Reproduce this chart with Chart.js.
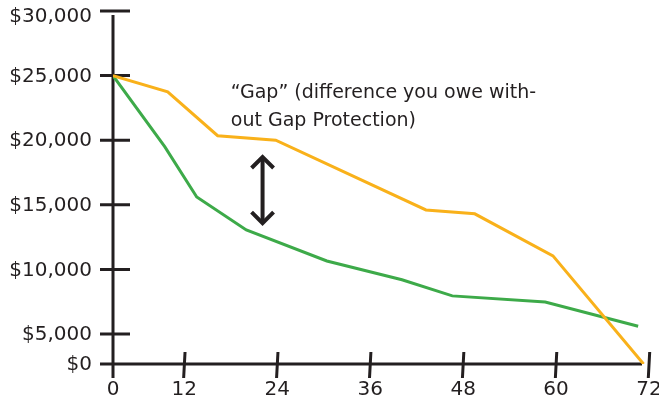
<!DOCTYPE html>
<html>
<head>
<meta charset="utf-8">
<script src="https://cdn.jsdelivr.net/npm/chart.js@4/dist/chart.umd.min.js"></script>
<style>
  html, body { margin: 0; padding: 0; background: #ffffff; }
  #wrap { width: 659px; height: 401px; }
</style>
</head>
<body>
<div id="wrap"><canvas id="chart" width="659" height="401"></canvas></div>
<script>
// Months since purchase and amounts for the two curves
const loanMonths   = [0, 9.2, 16.3, 23.8, 43.2, 49.5, 59.6, 71.3];
const loanBalance  = [25000, 23750, 20350, 20000, 14600, 14300, 11050, 0];
const valueMonths  = [0, 8.7, 13.6, 20.0, 30.4, 40.1, 46.6, 58.6, 70.6];
const carValue     = [25000, 19500, 15600, 13050, 10650, 9200, 7950, 7480, 5600];

// Axis ticks
const monthTicks  = [0, 12, 24, 36, 48, 60, 72];
const dollarTicks = [0, 5000, 10000, 15000, 20000, 25000, 30000];

// Annotation text
const gapLines = ['\u201CGap\u201D (difference you owe with-', 'out Gap Protection)'];

const INK = '#231f20';
const FONT = '"DejaVu Sans", sans-serif';

// Linear scale whose first interval (min..knee) is squeezed into a fixed share of the axis
class KneeScale extends Chart.LinearScale {
  static id = 'knee';
  _kneeDecimal(v) {
    const k = this.options.knee, f = this.options.kneeFraction;
    const lo = this.min, hi = this.max;
    return v <= k ? (v - lo) / (k - lo) * f : f + (v - k) / (hi - k) * (1 - f);
  }
  getPixelForValue(v) {
    return v === null ? NaN : this.getPixelForDecimal(this._kneeDecimal(v));
  }
  getValueForPixel(p) {
    const d = this.getDecimalForPixel(p);
    const k = this.options.knee, f = this.options.kneeFraction;
    return d <= f ? this.min + d / f * (k - this.min) : k + (d - f) / (1 - f) * (this.max - k);
  }
}
Chart.register(KneeScale);

// Axis lines, crossing tick marks and dollar labels
const handAxes = {
  id: 'handAxes',
  beforeDatasetsDraw(chart) {
    const { ctx, chartArea: a, scales: { x, y } } = chart;
    const x0 = x.getPixelForValue(0), y0 = y.getPixelForValue(0);
    ctx.save();
    ctx.strokeStyle = INK;
    ctx.lineWidth = 3;
    ctx.lineCap = 'butt';
    ctx.beginPath();
    ctx.moveTo(x0, a.top + 4); ctx.lineTo(x0, y0 + 14);
    ctx.moveTo(x0 - 13, y0); ctx.lineTo(a.right - 7, y0);
    y.ticks.forEach((t, i) => {
      if (t.value === 0) return;
      const py = y.getPixelForTick(i);
      ctx.moveTo(x0 - 13, py); ctx.lineTo(x0 + 17, py);
    });
    x.ticks.forEach((t, i) => {
      if (t.value === 0) return;
      const px = x.getPixelForTick(i);
      ctx.moveTo(px + 0.7, y0 - 12); ctx.lineTo(px - 0.7, y0 + 14);
    });
    ctx.stroke();

    ctx.fillStyle = INK;
    ctx.font = '20px ' + FONT;
    ctx.textAlign = 'right';
    ctx.textBaseline = 'middle';
    y.ticks.forEach((t, i) => {
      const py = Math.max(y.getPixelForTick(i), 16);
      ctx.fillText(t.label, x0 - 21, py + 1);
    });
    ctx.restore();
  },
  afterDatasetsDraw(chart) {
    const { ctx, scales: { x, y } } = chart;
    ctx.save();
    // caption
    ctx.fillStyle = INK;
    ctx.font = '19px ' + FONT;
    ctx.textAlign = 'left';
    ctx.textBaseline = 'alphabetic';
    const tx = x.getPixelForValue(18.0), ty = y.getPixelForValue(23250);
    gapLines.forEach((s, i) => ctx.fillText(s, tx, ty + i * 28));
    // double-headed arrow
    const ax = x.getPixelForValue(22.1);
    const top = y.getPixelForValue(18780), bot = y.getPixelForValue(13510);
    ctx.strokeStyle = INK;
    ctx.lineWidth = 4;
    ctx.lineJoin = 'miter';
    ctx.beginPath();
    ctx.moveTo(ax, top + 1); ctx.lineTo(ax, bot - 1);
    ctx.stroke();
    ctx.beginPath();
    ctx.moveTo(ax - 11, top + 12); ctx.lineTo(ax, top + 1); ctx.lineTo(ax + 11, top + 12);
    ctx.moveTo(ax - 11, bot - 12); ctx.lineTo(ax, bot - 1); ctx.lineTo(ax + 11, bot - 12);
    ctx.stroke();
    ctx.restore();
  }
};

new Chart(document.getElementById('chart'), {
  type: 'line',
  data: {
    datasets: [
      {
        label: 'Loan balance',
        data: loanMonths.map((m, i) => ({ x: m, y: loanBalance[i] })),
        borderColor: '#f9b11a',
        borderWidth: 3,
        pointRadius: 0,
        tension: 0
      },
      {
        label: 'Vehicle value',
        data: valueMonths.map((m, i) => ({ x: m, y: carValue[i] })),
        borderColor: '#3daa49',
        borderWidth: 3,
        pointRadius: 0,
        tension: 0
      }
    ]
  },
  options: {
    responsive: false,
    animation: false,
    events: [],
    layout: { padding: { top: 11, right: 10, left: 0, bottom: 0 } },
    plugins: { legend: { display: false }, tooltip: { enabled: false } },
    scales: {
      x: {
        type: 'knee',
        min: 0, max: 72,
        knee: 12, kneeFraction: 0.1331,
        afterBuildTicks: s => { s.ticks = monthTicks.map(v => ({ value: v })); },
        ticks: {
          autoSkip: false, maxRotation: 0,
          color: INK, padding: 2,
          font: { family: FONT, size: 20 }
        },
        grid: { display: false, drawTicks: true, tickLength: 12 },
        border: { display: false },
        afterFit: s => { s.height = 37; s.paddingLeft = 0; s.paddingRight = 0; }
      },
      y: {
        type: 'knee',
        min: 0, max: 30000,
        knee: 5000, kneeFraction: 30 / 353,
        afterBuildTicks: s => { s.ticks = dollarTicks.map(v => ({ value: v })); },
        ticks: {
          display: false,
          callback: v => '$' + Number(v).toLocaleString('en-US')
        },
        grid: { display: false, drawTicks: false },
        border: { display: false },
        afterFit: s => { s.width = 113; s.paddingTop = 0; s.paddingBottom = 0; }
      }
    }
  },
  plugins: [handAxes]
});
</script>
</body>
</html>
